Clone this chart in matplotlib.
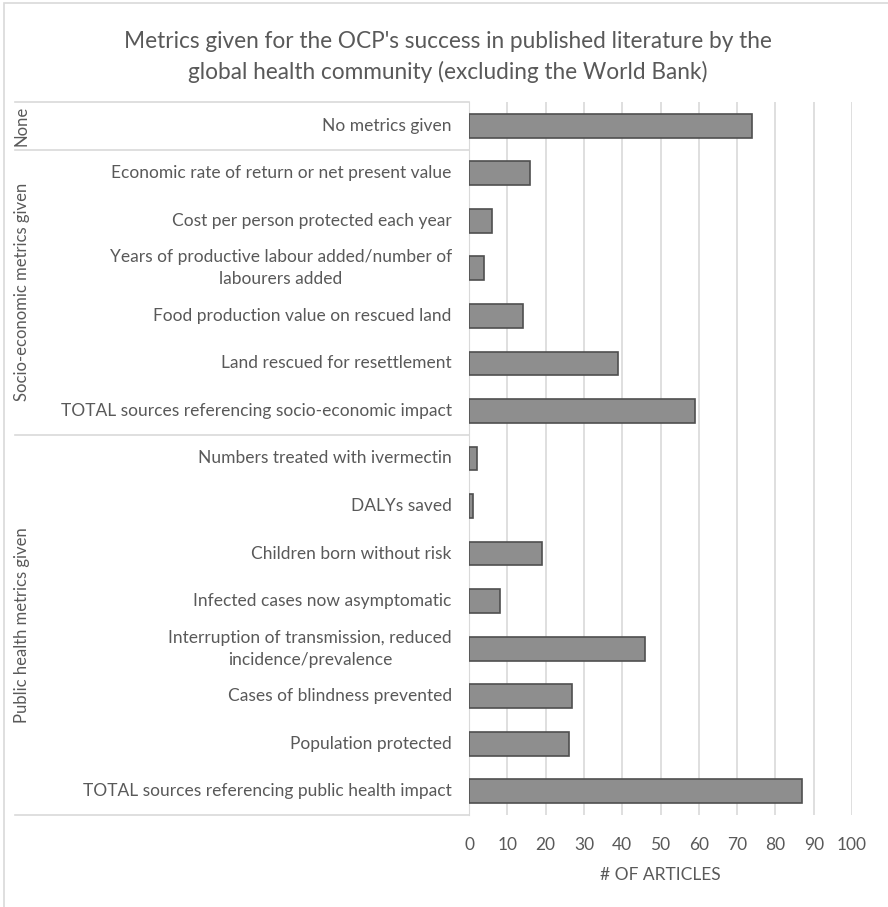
import matplotlib
matplotlib.use("Agg")
import matplotlib.pyplot as plt
import matplotlib.transforms as mtransforms
from matplotlib.lines import Line2D
from matplotlib.patches import Rectangle

plt.rcParams["font.family"] = ["Lato", "DejaVu Sans"]

categories = [
    "No metrics given",
    "Economic rate of return or net present value",
    "Cost per person protected each year",
    "Years of productive labour added/number of\nlabourers added",
    "Food production value on rescued land",
    "Land rescued for resettlement",
    "TOTAL sources referencing socio-economic impact",
    "Numbers treated with ivermectin",
    "DALYs saved",
    "Children born without risk",
    "Infected cases now asymptomatic",
    "Interruption of transmission, reduced\nincidence/prevalence",
    "Cases of blindness prevented",
    "Population protected",
    "TOTAL sources referencing public health impact",
]
counts = [74, 16, 6, 4, 14, 39, 59, 2, 1, 19, 8, 46, 27, 26, 87]
groups = ["None", "Socio-economic metrics given", "Public health metrics given"]
group_sizes = [1, 6, 8]
xticks = list(range(0, 101, 10))

TXT = "#595959"
GRID = "#d9d9d9"
W, H = 888, 907

fig = plt.figure(figsize=(W / 100, H / 100), dpi=100)
ax = fig.add_axes([469 / W, 1 - 815 / H, (852 - 469) / W, (815 - 102) / H])

ypos = list(range(len(categories)))
ax.barh(ypos, counts, height=0.5, color="#8e8e8e", edgecolor="#4f4f4f", linewidth=1.2, zorder=3)
ax.set_ylim(len(categories) - 0.5, -0.5)
ax.set_xlim(0, 100)
ax.set_xticks(xticks)
ax.set_xticklabels([str(t) for t in xticks], fontsize=12.5, color=TXT)
ax.tick_params(axis="x", length=0, pad=16)
ax.set_yticks([])
ax.xaxis.grid(True, color=GRID, lw=1.2, zorder=0)
for s in ["top", "right", "bottom"]:
    ax.spines[s].set_visible(False)
ax.spines["left"].set_color(GRID)
ax.set_xlabel("# OF ARTICLES", fontsize=12.5, color=TXT, labelpad=10)

# category labels
for y, lab in zip(ypos, categories):
    ax.text(-4.5, y, lab, ha="right", va="center", multialignment="center",
            fontsize=12.5, color=TXT, linespacing=1.45)

# group separators and labels
tr = mtransforms.blended_transform_factory(fig.transFigure, ax.transData)
edges = [-0.5]
for n in group_sizes:
    edges.append(edges[-1] + n)
for e in edges:
    fig.add_artist(Line2D([15 / W, 469 / W], [e, e], transform=tr, color=GRID, lw=1.2))
for g, a, b in zip(groups, edges[:-1], edges[1:]):
    fig.text(22 / W, (a + b) / 2, g, transform=tr, rotation=90, ha="center", va="center",
             fontsize=12, color=TXT)

fig.text(448 / W, 1 - 42 / H, "Metrics given for the OCP's success in published literature by the",
         ha="center", va="center", fontsize=16.3, color=TXT)
fig.text(448 / W, 1 - 72 / H, "global health community (excluding the World Bank)",
         ha="center", va="center", fontsize=16.3, color=TXT)

fig.add_artist(Rectangle((4 / W, -0.01), 1.0, 1 - 3 / H + 0.01, transform=fig.transFigure,
                         fill=False, edgecolor=GRID, lw=1.2))

fig.savefig("out.png", dpi=100)
